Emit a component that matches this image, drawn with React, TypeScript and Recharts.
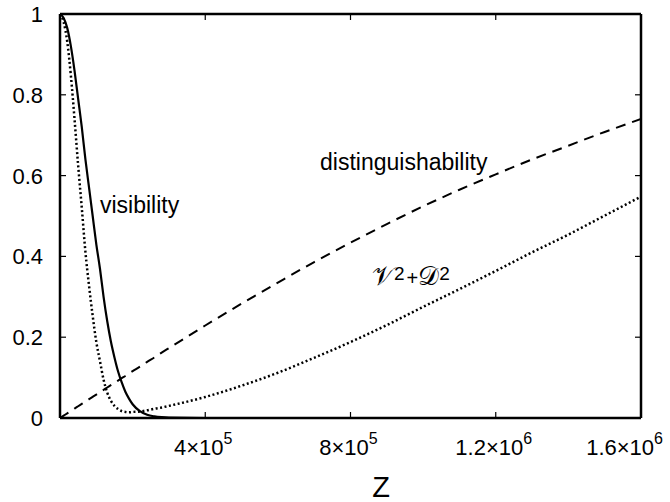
import React from "react";
import { LineChart, Line, XAxis, YAxis } from "recharts";

// ---- data ----
const zValues = [
  0, 1e4, 2e4, 3e4, 4e4, 5e4, 6e4, 7e4, 8e4, 9e4, 1e5, 1.1e5, 1.2e5, 1.3e5, 1.4e5,
  1.5e5, 1.6e5, 1.7e5, 1.8e5, 1.9e5, 2e5, 2.2e5, 2.4e5, 2.6e5, 2.8e5, 3e5, 4e5,
  5e5, 6e5, 7e5, 8e5, 9e5, 1e6, 1.1e6, 1.2e6, 1.3e6, 1.4e6, 1.5e6, 1.6e6,
];
const visibility = [
  1.0, 0.99, 0.965, 0.92, 0.86, 0.79, 0.72, 0.64, 0.57, 0.5, 0.43, 0.37, 0.3, 0.24,
  0.19, 0.15, 0.115, 0.088, 0.065, 0.048, 0.034, 0.017, 0.008, 0.004, 0.002, 0.001,
  0, 0, 0, 0, 0, 0, 0, 0, 0, 0, 0, 0, 0,
];
const distinguishability = [
  0, 0.0058, 0.0116, 0.0174, 0.0233, 0.0291, 0.0349, 0.0407, 0.0465, 0.0523, 0.058,
  0.064, 0.0697, 0.0755, 0.0812, 0.087, 0.0927, 0.0985, 0.104, 0.11, 0.116, 0.127,
  0.139, 0.15, 0.162, 0.173, 0.229, 0.283, 0.335, 0.386, 0.434, 0.48, 0.524, 0.565,
  0.603, 0.64, 0.674, 0.708, 0.74,
];
const sumOfSquares = [
  1.0, 0.98, 0.931, 0.847, 0.74, 0.625, 0.52, 0.411, 0.327, 0.253, 0.188, 0.141,
  0.095, 0.063, 0.043, 0.03, 0.022, 0.017, 0.015, 0.014, 0.015, 0.016, 0.019, 0.023,
  0.026, 0.03, 0.052, 0.08, 0.112, 0.149, 0.188, 0.23, 0.275, 0.319, 0.364, 0.41,
  0.454, 0.501, 0.548,
];
const xTicks = [4e5, 8e5, 1.2e6, 1.6e6];
const xTickMantissa = ["4", "8", "1.2", "1.6"];
const xTickExponent = ["5", "5", "6", "6"];
const yTicks = [0, 0.2, 0.4, 0.6, 0.8, 1];
const yTickLabels = ["0", "0.2", "0.4", "0.6", "0.8", "1"];

const data = zValues.map((z, i) => ({
  z,
  vis: visibility[i],
  dist: distinguishability[i],
  sum: sumOfSquares[i],
}));

// ---- layout ----
const W = 670;
const H = 502;
const FONT = "'Liberation Sans', Arial, Helvetica, sans-serif";
const TICK_LEN = 6;

const BottomTick = (props: any) => {
  const { x, y, payload } = props;
  const i = xTicks.indexOf(payload.value);
  const last = i === xTicks.length - 1;
  return (
    <g>
      {!last && (
        <line x1={x} x2={x} y1={y} y2={y - TICK_LEN} stroke="#000" strokeWidth={1.2} />
      )}
      <text
        x={last ? x + 22 : x - 2}
        y={y + 37}
        textAnchor={last ? "end" : "middle"}
        fontFamily={FONT}
        fontSize={22}
        fill="#000"
      >
        {xTickMantissa[i]}×10
        <tspan dy={-11} fontSize={16}>
          {xTickExponent[i]}
        </tspan>
      </text>
    </g>
  );
};

const TopTick = (props: any) => {
  const { x, y, payload } = props;
  if (payload.value >= 1.6e6) return <g />;
  return <line x1={x} x2={x} y1={y} y2={y + TICK_LEN} stroke="#000" strokeWidth={1.2} />;
};

const LeftTick = (props: any) => {
  const { x, y, payload } = props;
  const i = yTicks.indexOf(payload.value);
  return (
    <g>
      <line x1={x} x2={x + TICK_LEN} y1={y} y2={y} stroke="#000" strokeWidth={1.2} />
      <text
        x={x - 17}
        y={y}
        dy="0.36em"
        textAnchor="end"
        fontFamily={FONT}
        fontSize={22}
        fill="#000"
      >
        {yTickLabels[i]}
      </text>
    </g>
  );
};

const RightTick = (props: any) => {
  const { x, y } = props;
  return <line x1={x} x2={x - TICK_LEN} y1={y} y2={y} stroke="#000" strokeWidth={1.2} />;
};

export default function App() {
  return (
    <div style={{ position: "absolute", left: 0, top: 0, width: W, height: H, background: "#fff" }}>
      <LineChart
        width={W}
        height={H}
        data={data}
        margin={{ top: 13, right: 28, bottom: 0, left: 0 }}
      >
        <XAxis
          dataKey="z"
          type="number"
          domain={[0, 1.6e6]}
          ticks={xTicks}
          height={84}
          tickSize={0}
          tickMargin={0}
          tickLine={false}
          axisLine={{ stroke: "#000", strokeWidth: 2.5 }}
          tick={<BottomTick />}
          interval={0}
          allowDataOverflow
        />
        <XAxis
          xAxisId="top"
          orientation="top"
          dataKey="z"
          type="number"
          domain={[0, 1.6e6]}
          ticks={xTicks}
          height={1}
          tickSize={0}
          tickMargin={0}
          tickLine={false}
          axisLine={{ stroke: "#000", strokeWidth: 2.5 }}
          tick={<TopTick />}
          interval={0}
          allowDataOverflow
        />
        <YAxis
          type="number"
          domain={[0, 1]}
          ticks={yTicks}
          width={60}
          tickSize={0}
          tickMargin={0}
          tickLine={false}
          axisLine={{ stroke: "#000", strokeWidth: 2.5 }}
          tick={<LeftTick />}
          interval={0}
          allowDataOverflow
        />
        <YAxis
          yAxisId="right"
          orientation="right"
          type="number"
          domain={[0, 1]}
          ticks={yTicks}
          width={1}
          tickSize={0}
          tickMargin={0}
          tickLine={false}
          axisLine={{ stroke: "#000", strokeWidth: 2.5 }}
          tick={<RightTick />}
          interval={0}
          allowDataOverflow
        />
        <Line
          dataKey="dist"
          type="monotone"
          stroke="#000"
          strokeWidth={2}
          strokeDasharray="10 7"
          dot={false}
          isAnimationActive={false}
        />
        <Line
          dataKey="sum"
          type="monotone"
          stroke="#000"
          strokeWidth={2.5}
          strokeDasharray="2 2.5"
          dot={false}
          isAnimationActive={false}
        />
        <Line
          dataKey="vis"
          type="monotone"
          stroke="#000"
          strokeWidth={2.2}
          dot={false}
          isAnimationActive={false}
        />
      </LineChart>
      <svg
        width={W}
        height={H}
        style={{ position: "absolute", left: 0, top: 0, pointerEvents: "none" }}
      >
        <text x={100} y={213} fontFamily={FONT} fontSize={23} fill="#000">
          visibility
        </text>
        <text x={320} y={170} fontFamily={FONT} fontSize={23} fill="#000">
          distinguishability
        </text>
        <text x={372} y={285} fontFamily="'DejaVu Serif', serif" fontSize={26} fill="#000">
          𝒱
          <tspan fontFamily={FONT} fontSize={19} dy={-5}>2</tspan>
          <tspan fontFamily={FONT} fontSize={20} dy={5} dx={2}>+</tspan>
          <tspan>𝒟</tspan>
          <tspan fontFamily={FONT} fontSize={19} dy={-5}>2</tspan>
        </text>
        <text x={381} y={497} textAnchor="middle" fontFamily={FONT} fontSize={29} fill="#000">
          Z
        </text>
      </svg>
    </div>
  );
}
